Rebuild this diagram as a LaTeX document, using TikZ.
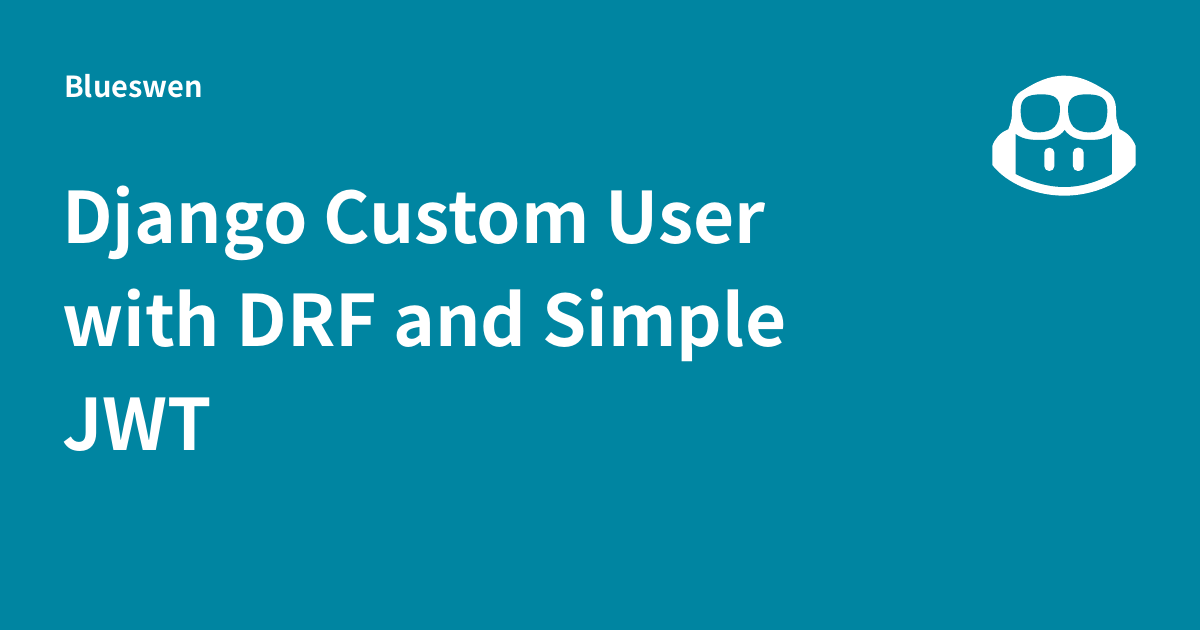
\documentclass[tikz,border=0pt]{standalone}
\usepackage{fontspec}
\setmainfont{Noto Sans CJK JP}[BoldFont={* Bold}]
\definecolor{bgteal}{HTML}{0085A1}
\tikzset{
  titletext/.style={anchor=base west,inner sep=0pt,text=white,font=\fontsize{71}{71}\selectfont\bfseries},
  ownertext/.style={anchor=base west,inner sep=0pt,text=white,font=\fontsize{29}{29}\selectfont\bfseries},
}
\begin{document}
\begin{tikzpicture}[x=1pt,y=-1pt]
\fill[bgteal] (0,0) rectangle (1200,630);
\useasboundingbox (0,0) rectangle (1200,630);
\node[ownertext] (owner) at (64,97.3) {Blueswen};
\node[titletext] (l1) at (62,243) {Django Custom User};
\node[titletext] (l2) at (62,346.5) {with DRF and Simple};
\node[titletext] (l3) at (62,450) {JWT};
\begin{scope}[shift={(970,60)},x=0.3333pt,y=-0.3333pt]
\fill[white] (283,47) .. controls (235,47) and (195,68) .. (160,90)
  .. controls (135,103) and (126,125) .. (126,150)
  .. controls (126,170) and (126,180) .. (115,208)
  .. controls (90,218) and (75,235) .. (67,258)
  -- (67,315)
  .. controls (110,370) and (195,407) .. (283,407)
  .. controls (370,407) and (455,370) .. (497,315)
  -- (497,258)
  .. controls (488,235) and (472,218) .. (449,208)
  .. controls (438,180) and (438,170) .. (438,150)
  .. controls (438,125) and (430,103) .. (405,90)
  .. controls (370,68) and (330,47) .. (283,47) -- cycle;
\fill[bgteal] (152,150) .. controls (152,115) and (170,103) .. (215,103)
  .. controls (255,103) and (270,115) .. (270,150)
  .. controls (268,195) and (250,217) .. (205,217)
  .. controls (170,217) and (152,200) .. (152,150) -- cycle;
\fill[bgteal] (412,150) .. controls (412,115) and (394,103) .. (350,103)
  .. controls (310,103) and (294,115) .. (294,150)
  .. controls (296,195) and (314,217) .. (359,217)
  .. controls (394,217) and (412,200) .. (412,150) -- cycle;
\fill[bgteal] (137,222) .. controls (160,240) and (190,240) .. (215,240)
  .. controls (245,240) and (270,230) .. (284,210)
  .. controls (298,230) and (320,240) .. (350,240)
  .. controls (375,240) and (405,240) .. (426,222)
  -- (426,342)
  .. controls (380,367) and (330,381) .. (283,381)
  .. controls (235,381) and (185,367) .. (137,342) -- cycle;
\fill[white,rounded corners=14.5pt*0.3333] (223,263) rectangle (253,333);
\fill[white,rounded corners=14.5pt*0.3333] (309,263) rectangle (341,333);
\end{scope}
\end{tikzpicture}
\end{document}
